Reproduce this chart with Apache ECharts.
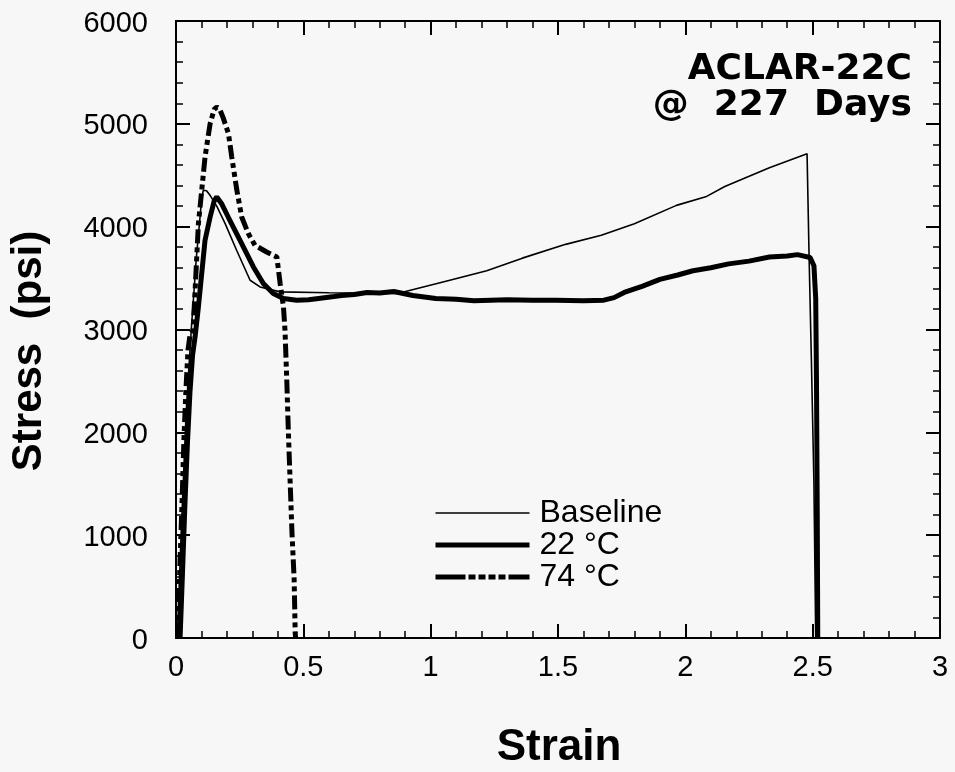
<!DOCTYPE html>
<html>
<head>
<meta charset="utf-8">
<script src="https://cdn.jsdelivr.net/npm/echarts@6/dist/echarts.min.js"></script>
<style>html,body{margin:0;padding:0;background:#f7f7f7}#c{width:955px;height:772px}</style>
</head>
<body>
<div id="c"></div>
<script>
// Tick labels
const xTicks = [0, 0.5, 1, 1.5, 2, 2.5, 3];
const yTicks = [0, 1000, 2000, 3000, 4000, 5000, 6000];
const seriesNames = ['Baseline', '22 °C', '74 °C'];

// Baseline
const baseX = [0.005, 0.02, 0.04, 0.06, 0.08, 0.10, 0.107, 0.12, 0.135, 0.16, 0.193, 0.238, 0.291, 0.33, 0.409, 0.6, 0.87, 1.06, 1.22, 1.36, 1.53, 1.67, 1.80, 1.965, 2.08, 2.155, 2.33, 2.478, 2.486, 2.495, 2.505, 2.512];
const baseY = [0, 1000, 2200, 3000, 3700, 4250, 4354, 4350, 4300, 4200, 4030, 3771, 3479, 3414, 3366, 3358, 3350, 3470, 3571, 3694, 3828, 3916, 4029, 4207, 4290, 4390, 4574, 4710, 3700, 2700, 1500, 0];

// 22 °C
const c22X = [0.016, 0.025, 0.035, 0.045, 0.055, 0.065, 0.075, 0.088, 0.101, 0.114, 0.134, 0.150, 0.160, 0.180, 0.205, 0.251, 0.304, 0.343, 0.382, 0.422, 0.474, 0.52, 0.56, 0.62, 0.65, 0.70, 0.75, 0.80, 0.855, 0.93, 1.02, 1.10, 1.17, 1.30, 1.40, 1.49, 1.60, 1.68, 1.72, 1.76, 1.83, 1.90, 1.97, 2.03, 2.10, 2.17, 2.25, 2.33, 2.40, 2.44, 2.49, 2.505, 2.512, 2.515, 2.518, 2.52];
const c22Y = [0, 600, 1300, 1900, 2400, 2750, 2930, 3220, 3544, 3868, 4094, 4250, 4289, 4220, 4094, 3868, 3608, 3447, 3350, 3301, 3285, 3290, 3302, 3320, 3330, 3340, 3360, 3355, 3370, 3330, 3302, 3295, 3280, 3290, 3285, 3285, 3280, 3285, 3310, 3360, 3420, 3487, 3530, 3571, 3600, 3638, 3665, 3705, 3715, 3728, 3700, 3620, 3300, 2500, 1200, 0];

// 74 °C
const c74X = [0.005, 0.008, 0.016, 0.024, 0.031, 0.039, 0.047, 0.055, 0.067, 0.075, 0.088, 0.101, 0.114, 0.134, 0.150, 0.160, 0.172, 0.185, 0.206, 0.219, 0.239, 0.258, 0.284, 0.310, 0.356, 0.396, 0.409, 0.422, 0.428, 0.435, 0.441, 0.448, 0.455, 0.464, 0.468, 0.470];
const c74Y = [0, 29, 758, 1341, 1924, 2410, 2799, 2945, 2993, 3382, 4030, 4354, 4677, 5002, 5140, 5163, 5140, 5060, 4905, 4677, 4354, 4094, 3933, 3819, 3754, 3706, 3447, 3220, 2993, 2507, 2021, 1535, 1050, 564, 49, 0];

const zip = (xs, ys) => xs.map((x, i) => [x, ys[i]]);

const FONT = '"Liberation Sans", Arial, Helvetica, sans-serif';
const GRID = { left: 176, right: 15, top: 21, bottom: 134 };

function xAx(pos, show) {
  return {
    type: 'value', position: pos, min: xTicks[0], max: xTicks[xTicks.length - 1],
    interval: xTicks[1] - xTicks[0],
    axisLine: { show: true, onZero: false, lineStyle: { color: '#000', width: 2 } },
    axisTick: { show: true, inside: true, length: 14, lineStyle: { color: '#000', width: 2 } },
    minorTick: { show: true, splitNumber: 5, length: 7, lineStyle: { color: '#000', width: 1.5 } },
    splitLine: { show: false },
    axisLabel: { show: show, margin: 15, color: '#000', fontSize: 29, fontFamily: FONT,
      formatter: v => String(v) }
  };
}
function yAx(pos, show) {
  return {
    type: 'value', position: pos, min: yTicks[0], max: yTicks[yTicks.length - 1],
    interval: yTicks[1] - yTicks[0],
    axisLine: { show: true, onZero: false, lineStyle: { color: '#000', width: 2 } },
    axisTick: { show: true, inside: true, length: 14, lineStyle: { color: '#000', width: 2 } },
    minorTick: { show: true, splitNumber: 5, length: 7, lineStyle: { color: '#000', width: 1.5 } },
    splitLine: { show: false },
    axisLabel: { show: show, margin: 28, color: '#000', fontSize: 29, fontFamily: FONT,
      verticalAlign: 'top', lineHeight: 29, padding: [-12, 0, 0, 0], formatter: v => String(v) }
  };
}

const chart = echarts.init(document.getElementById('c'), null, { renderer: 'canvas' });
chart.setOption({
  backgroundColor: '#f7f7f7',
  animation: false,
  grid: GRID,
  xAxis: [xAx('bottom', true), xAx('top', false)],
  yAxis: [yAx('left', true), yAx('right', false)],
  legend: {
    orient: 'vertical', left: 433, top: 497, padding: 0,
    itemWidth: 94, itemHeight: 14, itemGap: 0,
    itemStyle: { opacity: 0 },
    textStyle: { fontSize: 32, lineHeight: 31, color: '#000', fontFamily: FONT, padding: [0, 0, 0, 5] },
    data: [
      { name: seriesNames[0], lineStyle: { width: 1.6 } },
      { name: seriesNames[1], lineStyle: { width: 5 } },
      { name: seriesNames[2], lineStyle: { width: 5, type: [30, 3, 7, 3, 7, 3, 7, 3, 7, 3] } }
    ]
  },
  graphic: [
    { type: 'text', x: 559, y: 726, style: { text: 'Strain', font: 'bold 44px ' + FONT, fill: '#000', textAlign: 'center' } },
    { type: 'text', x: 8, y: 351, rotation: Math.PI / 2, originX: 0, originY: 0,
      style: { text: 'Stress  (psi)', font: 'bold 42px ' + FONT, fill: '#000', textAlign: 'center', textVerticalAlign: 'top' } },
    { type: 'text', x: 912, y: 52, style: { text: 'ACLAR-22C', font: 'bold 36px "DejaVu Sans", sans-serif', fill: '#000', textAlign: 'right' } },
    { type: 'text', x: 912, y: 88, style: { text: '@  227  Days', font: 'bold 36px "DejaVu Sans", sans-serif', fill: '#000', textAlign: 'right' } }
  ],
  series: [
    { name: seriesNames[0], type: 'line', symbol: 'none', data: zip(baseX, baseY),
      lineStyle: { color: '#000', width: 1.6 }, itemStyle: { color: '#000' }, z: 3 },
    { name: seriesNames[1], type: 'line', symbol: 'none', data: zip(c22X, c22Y),
      lineStyle: { color: '#000', width: 5 }, itemStyle: { color: '#000' }, z: 2 },
    { name: seriesNames[2], type: 'line', symbol: 'none', data: zip(c74X, c74Y),
      lineStyle: { color: '#000', width: 5, type: [14, 4, 5, 4, 5, 4] }, itemStyle: { color: '#000' }, z: 2 }
  ]
});
</script>
</body>
</html>
